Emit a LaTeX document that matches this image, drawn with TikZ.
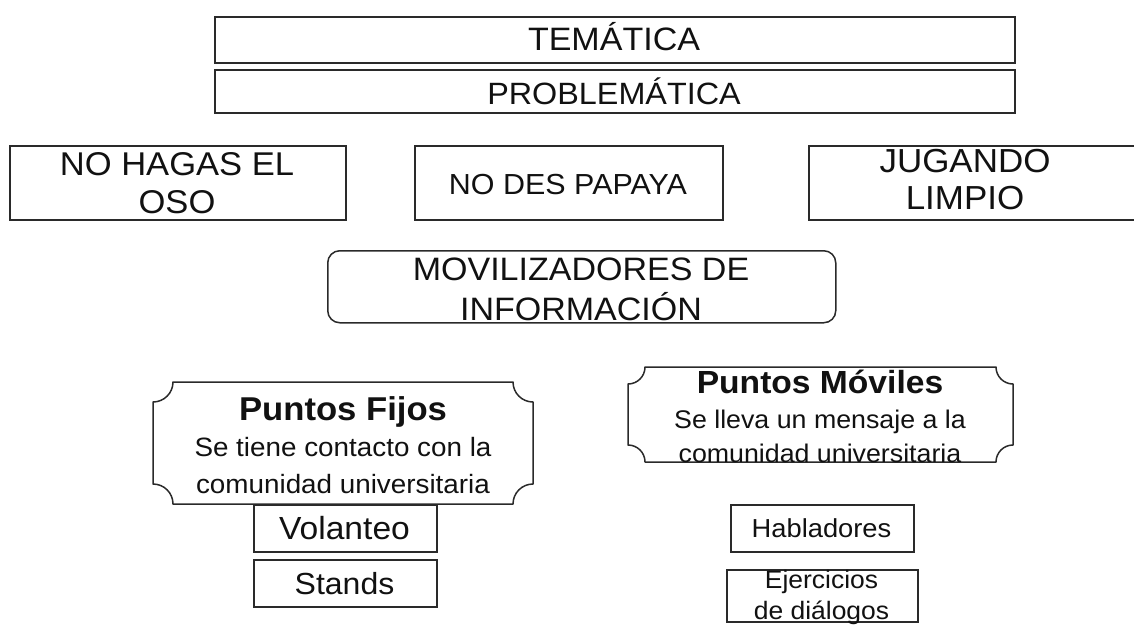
\documentclass[tikz,border=0pt]{standalone}
\usepackage{fontspec}
\setmainfont{Liberation Sans}[FakeStretch=1.05]
\definecolor{lc}{HTML}{2A2A2A}
\definecolor{tc}{HTML}{111111}
\newcommand\plaquepath[5]{%
 \draw[plaque] ({#1+#5},#2) -- ({#3-#5},#2)
  .. controls ({#3-#5},{#2+0.5523*#5}) and ({#3-0.5523*#5},{#2+#5}) .. (#3,{#2+#5})
  -- (#3,{#4-#5})
  .. controls ({#3-0.5523*#5},{#4-#5}) and ({#3-#5},{#4-0.5523*#5}) .. ({#3-#5},#4)
  -- ({#1+#5},#4)
  .. controls ({#1+#5},{#4-0.5523*#5}) and ({#1+0.5523*#5},{#4-#5}) .. (#1,{#4-#5})
  -- (#1,{#2+#5})
  .. controls ({#1+0.5523*#5},{#2+#5}) and ({#1+#5},{#2+0.5523*#5}) .. ({#1+#5},#2)
  -- cycle;}
\begin{document}
\begin{tikzpicture}[x=1pt,y=-1pt,
  box/.style={draw=lc,line width=1.5pt,inner sep=0pt,anchor=north west},
  plaque/.style={draw=lc,line width=1.5pt,line join=round},
  txt/.style={anchor=base,inner sep=0pt,text=tc}]
\useasboundingbox (0,0) rectangle (1134,624);
\clip (0,0) rectangle (1134,624);
% top boxes
\node[box,minimum width=800,minimum height=46] (tem) at (214,16) {};
\node[txt,font=\fontsize{32.4}{38}\selectfont] (temt) at (614,50) {TEMÁTICA};
\node[box,minimum width=800,minimum height=43] (pro) at (214,69) {};
\node[txt,font=\fontsize{30.8}{38}\selectfont] (prot) at (614,104) {PROBLEMÁTICA};
% three campaign boxes
\node[box,minimum width=336,minimum height=74] (oso) at (9,145) {};
\node[txt,font=\fontsize{32.9}{38}\selectfont] (osot1) at (177,175) {NO HAGAS EL};
\node[txt,font=\fontsize{32.9}{38}\selectfont] (osot2) at (177,213) {OSO};
\node[box,minimum width=308,minimum height=74] (pap) at (414,145) {};
\node[txt,font=\fontsize{29}{38}\selectfont] (papt) at (568,194) {NO DES PAPAYA};
\node[box,minimum width=340,minimum height=74] (jug) at (808,145) {};
\node[txt,font=\fontsize{33.3}{38}\selectfont] (jugt1) at (965,172) {JUGANDO};
\node[txt,font=\fontsize{33.3}{38}\selectfont] (jugt2) at (965,209) {LIMPIO};
% movilizadores
\node[box,rounded corners=12pt,minimum width=508,minimum height=72] (mov) at (327,250) {};
\node[txt,font=\fontsize{32.4}{38}\selectfont] (movt1) at (581,280) {MOVILIZADORES DE};
\node[txt,font=\fontsize{32.4}{38}\selectfont] (movt2) at (581,320) {INFORMACIÓN};
% puntos fijos
\plaquepath{153}{382}{533}{504}{20}
\node[txt,font=\bfseries\fontsize{33}{38}\selectfont] (pft1) at (343,420) {Puntos Fijos};
\node[txt,font=\fontsize{26.5}{38}\selectfont] (pft2) at (343,456) {Se tiene contacto con la};
\node[txt,font=\fontsize{26.5}{38}\selectfont] (pft3) at (343,493) {comunidad universitaria};
% puntos moviles
\plaquepath{628}{367}{1013}{462}{17}
\node[txt,font=\bfseries\fontsize{32}{38}\selectfont] (pmt1) at (820,393) {Puntos Móviles};
\node[txt,font=\fontsize{25.5}{38}\selectfont] (pmt2) at (820,428) {Se lleva un mensaje a la};
\node[txt,font=\fontsize{25.5}{38}\selectfont] (pmt3) at (820,462) {comunidad universitaria};
% small boxes left
\node[box,minimum width=183,minimum height=47] (vol) at (253,504) {};
\node[txt,font=\fontsize{32}{38}\selectfont] (volt) at (344.5,539) {Volanteo};
\node[box,minimum width=183,minimum height=47] (sta) at (253,559) {};
\node[txt,font=\fontsize{30.5}{38}\selectfont] (stat) at (344.5,594) {Stands};
% small boxes right
\node[box,minimum width=183,minimum height=47] (hab) at (730,504) {};
\node[txt,font=\fontsize{26}{38}\selectfont] (habt) at (821.5,537) {Habladores};
\node[box,minimum width=191,minimum height=52] (eje) at (726,569) {};
\node[txt,font=\fontsize{25.2}{38}\selectfont] (ejet1) at (821.5,588) {Ejercicios};
\node[txt,font=\fontsize{25.2}{38}\selectfont] (ejet2) at (821.5,619) {de diálogos};
\end{tikzpicture}
\end{document}
